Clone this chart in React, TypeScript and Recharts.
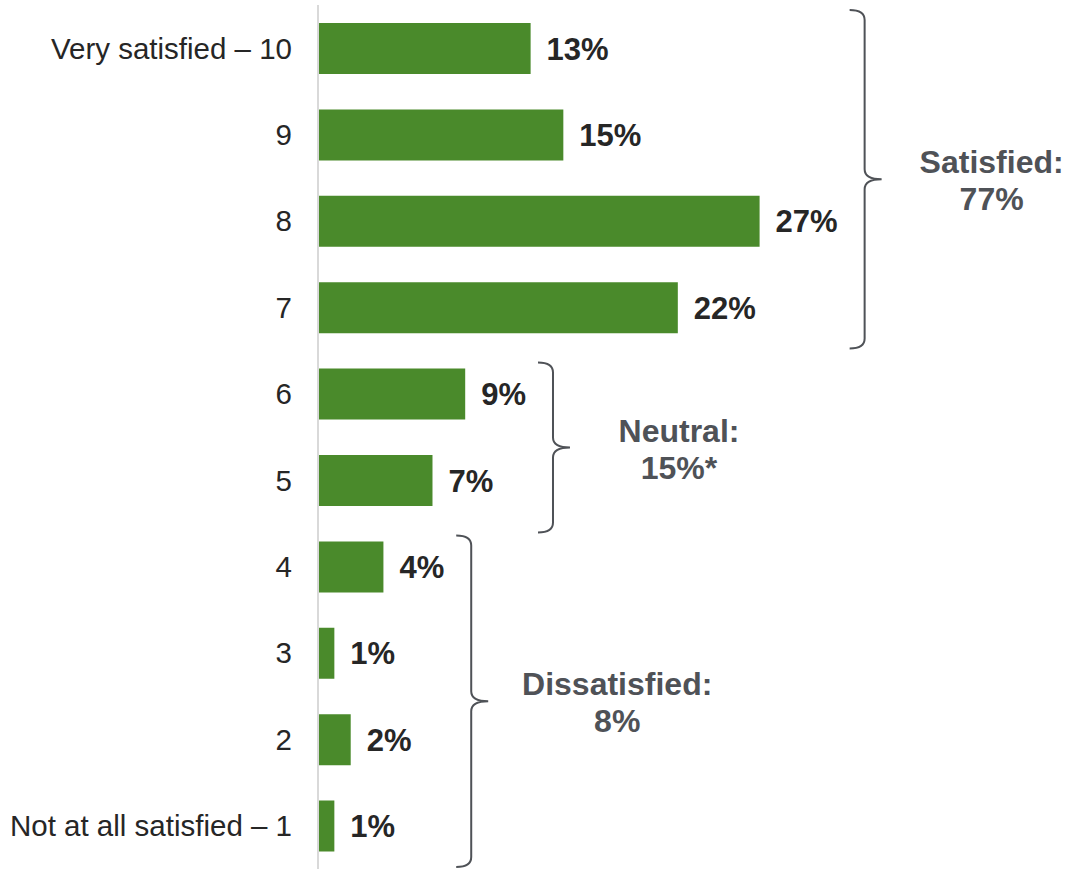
import { Bar, BarChart, LabelList, ReferenceArea, XAxis, YAxis } from "recharts";

const CATEGORIES = ["Very satisfied – 10", "9", "8", "7", "6", "5", "4", "3", "2", "Not at all satisfied – 1"];
const VALUES = [13, 15, 27, 22, 9, 7, 4, 1, 2, 1];

const GROUP_NAMES = ["Satisfied:", "Neutral:", "Dissatisfied:"];
const GROUP_TOTALS = ["77%", "15%*", "8%"];
const GROUP_FIRST = ["Very satisfied – 10", "6", "4"];
const GROUP_LAST = ["7", "5", "Not at all satisfied – 1"];

const FONT = "'Liberation Sans', Arial, sans-serif";
const GREEN = "#4a8a2b";
const DARK = "#262626";
const GREY = "#4f5257";
const LABEL_SIZE = 31;

// brace placement tweaks (pixels), per group
const BRACE_LAYOUT = [
  { top: 5, bottom: -2, dx: 110 },
  { top: 12, bottom: 9, dx: 109 },
  { top: 12, bottom: -2, dx: 129 },
];

const data = CATEGORIES.map((c, i) => ({ category: c, value: VALUES[i] }));

function groupMax(i: number) {
  const a = CATEGORIES.indexOf(GROUP_FIRST[i]);
  const b = CATEGORIES.indexOf(GROUP_LAST[i]);
  return Math.max(...VALUES.slice(a, b + 1));
}

function Brace(props: any) {
  const { x, y, width, height, idx } = props;
  const lay = BRACE_LAYOUT[idx];
  const max = groupMax(idx);
  const labelW = (String(max).length * 0.556 + 0.889) * LABEL_SIZE;
  const L = x + width + 16 + labelW + 12;
  const V = L + 15;
  const T = L + 32;
  const top = y + lay.top;
  const bot = y + height + lay.bottom;
  const mid = (top + bot) / 2;
  const r = 10;
  const d = `M${L},${top} Q${V},${top} ${V},${top + r} L${V},${mid - r} Q${V},${mid} ${T},${mid} Q${V},${mid} ${V},${mid + r} L${V},${bot - r} Q${V},${bot} ${L},${bot}`;
  const cx = T + lay.dx;
  return (
    <g>
      <path d={d} fill="none" stroke={GREY} strokeWidth={2} />
      <text x={cx} y={mid - 6} textAnchor="middle" fill={GREY} fontSize={32} fontWeight="bold" fontFamily={FONT}>
        {GROUP_NAMES[idx]}
      </text>
      <text x={cx} y={mid + 31} textAnchor="middle" fill={GREY} fontSize={32} fontWeight="bold" fontFamily={FONT}>
        {GROUP_TOTALS[idx]}
      </text>
    </g>
  );
}

export default function App() {
  return (
    <div style={{ position: "absolute", left: 0, top: 0, background: "#ffffff" }}>
      <BarChart width={1068} height={869} data={data} layout="vertical" margin={{ top: 5, right: 14, bottom: 0, left: 0 }}>
        <XAxis type="number" domain={[0, 45]} hide />
        <YAxis
          type="category"
          dataKey="category"
          width={318}
          tickSize={0}
          tickMargin={26}
          tickLine={false}
          axisLine={{ stroke: "#d9d9d9", strokeWidth: 2 }}
          interval={0}
          tick={{ fill: DARK, fontSize: 29.5, fontFamily: FONT }}
        />
        <Bar dataKey="value" fill={GREEN} barSize={51} isAnimationActive={false}>
          <LabelList
            dataKey="value"
            position="right"
            offset={16}
            formatter={(v: any) => `${v}%`}
            fill={DARK}
            fontSize={LABEL_SIZE}
            fontWeight="bold"
            fontFamily={FONT}
          />
        </Bar>
        {GROUP_NAMES.map((g, i) => (
          <ReferenceArea
            key={g}
            x1={0}
            x2={groupMax(i)}
            y1={GROUP_FIRST[i]}
            y2={GROUP_LAST[i]}
            ifOverflow="visible"
            shape={(p: any) => <Brace {...p} idx={i} />}
          />
        ))}
      </BarChart>
    </div>
  );
}
